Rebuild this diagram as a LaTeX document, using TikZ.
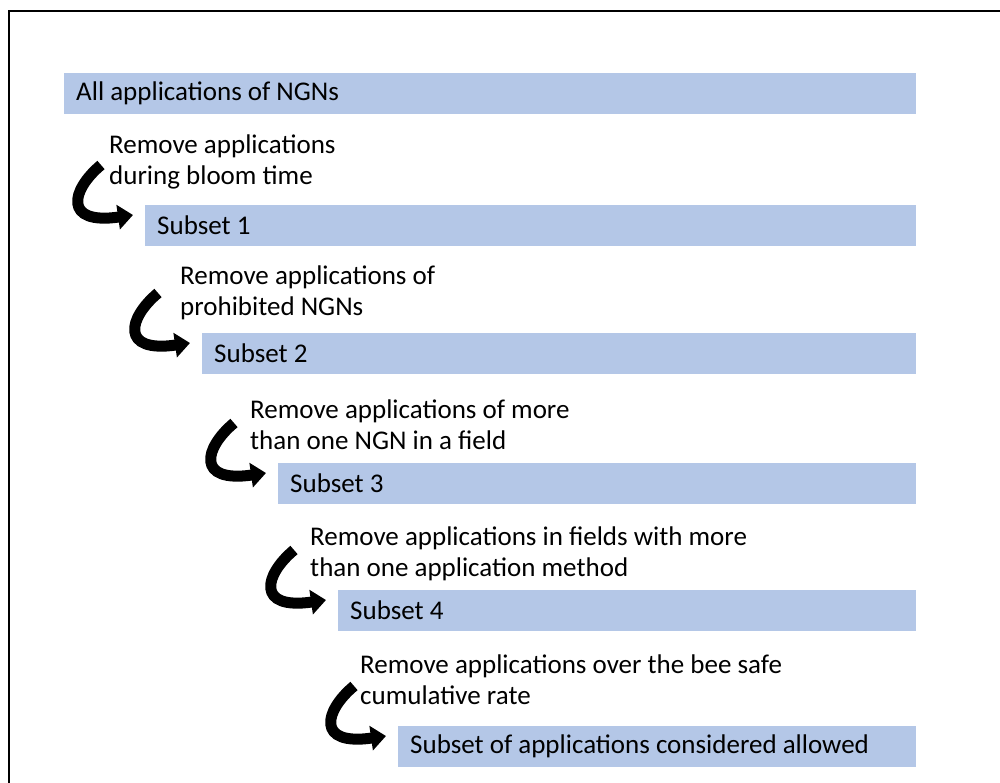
\documentclass[tikz,border=0pt]{standalone}
\usepackage{fontspec}
\setmainfont{Carlito}
\usetikzlibrary{arrows.meta,calc}
\definecolor{boxblue}{HTML}{B4C7E7}
\begin{document}
\begin{tikzpicture}[x=1pt,y=-1pt,
  every node/.style={font=\fontsize{27pt}{31pt}\selectfont},
  stage/.style={fill=boxblue, draw=none, anchor=north west, minimum height=41pt,
    inner xsep=12pt, inner ysep=0pt},
  steptext/.style={anchor=north west, inner sep=0pt, align=left},
  curvearrow/.style={line width=11pt, -{Triangle[width=24pt,length=15pt]}}]
\useasboundingbox (0,0) rectangle (1000,782);
\clip (0,0) rectangle (1000,782);
\draw[line width=2pt] (9,800) -- (9,11) -- (1010,11);

\node[stage] (s0) at (64,73) {\makebox[828pt][l]{All applications of NGNs}};
\node[stage] (s1) at (145,205) {\makebox[747pt][l]{Subset 1}};
\node[stage] (s2) at (202,333) {\makebox[690pt][l]{Subset 2}};
\node[stage] (s3) at (278,463) {\makebox[614pt][l]{Subset 3}};
\node[stage] (s4) at (338,590) {\makebox[554pt][l]{Subset 4}};
\node[stage] (s5) at (398,726) {\makebox[494pt][l]{Subset of applications considered allowed}};

\node[steptext] (t1) at (109,135) {Remove applications\\during bloom time};
\node[steptext] (t2) at (180,266) {Remove applications of\\prohibited NGNs};
\node[steptext] (t3) at (250,400) {Remove applications of more\\than one NGN in a field};
\node[steptext] (t4) at (310,527) {Remove applications in fields with more\\than one application method};
\node[steptext] (t5) at (360,655) {Remove applications over the bee safe\\cumulative rate};

\foreach \i in {1,...,5}{
  \coordinate (a\i s) at ($(s\i.north west)+(-44,-40)$);
  \coordinate (a\i e) at ($(s\i.north west)+(-12,10)$);
  \draw[curvearrow] (a\i s) .. controls +(-30,25) and +(-70,10) .. (a\i e);
}
\end{tikzpicture}
\end{document}
